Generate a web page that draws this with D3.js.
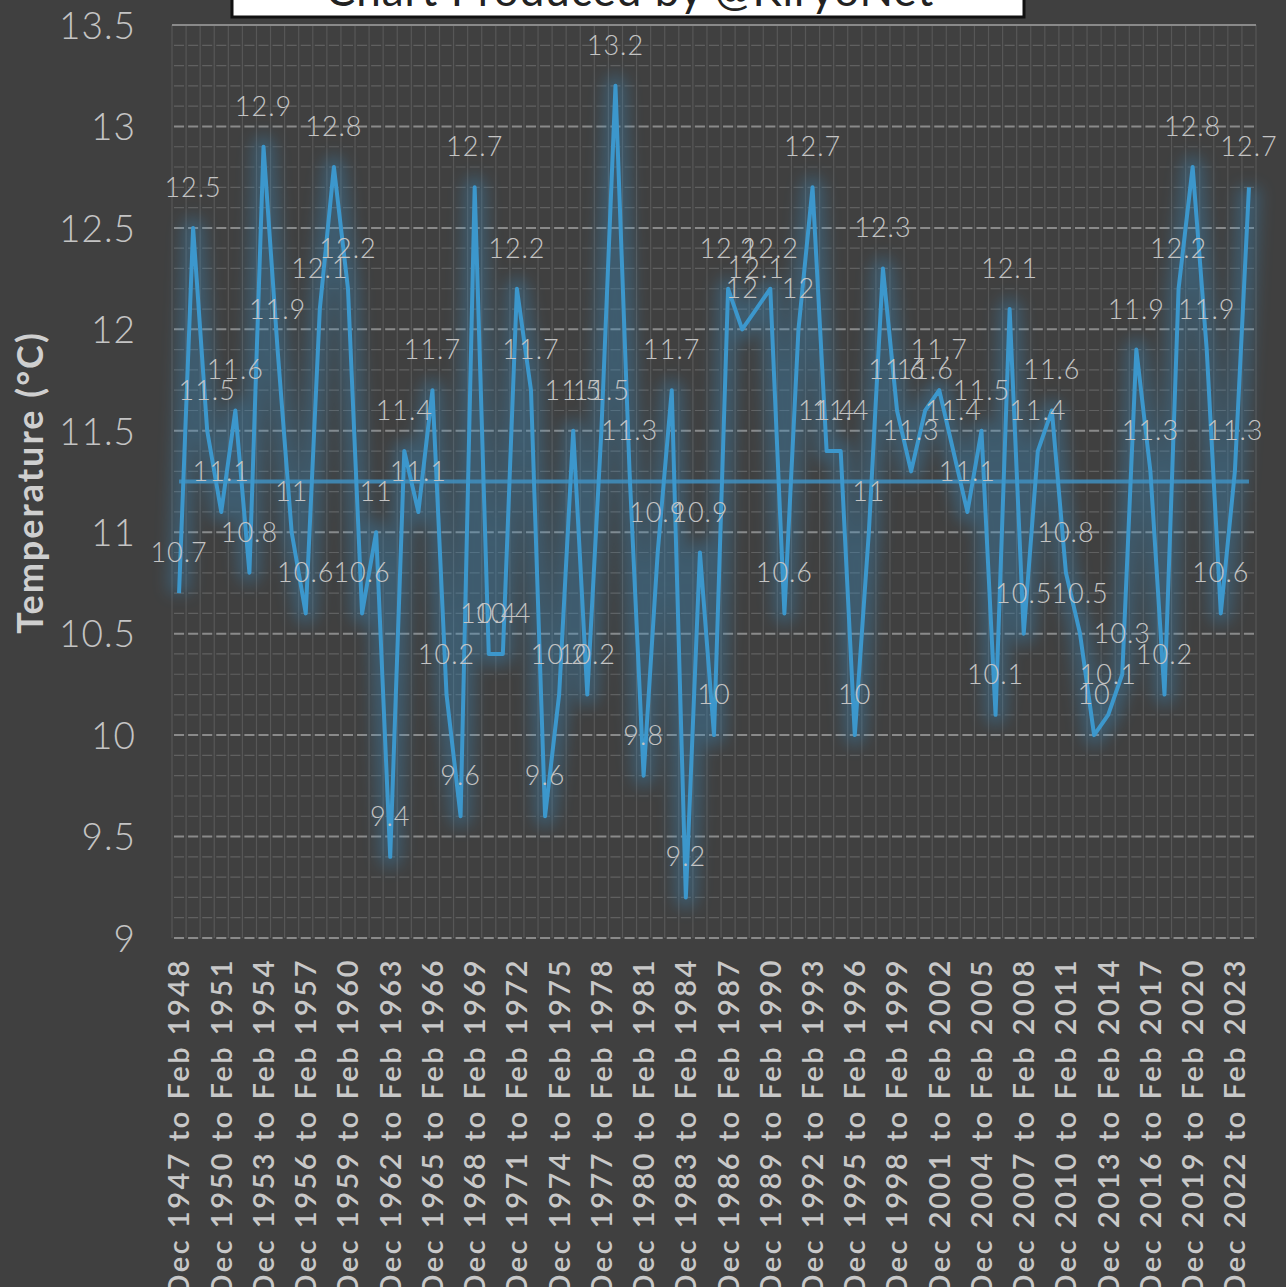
<!DOCTYPE html>
<html>
<head>
<meta charset="utf-8">
<script src="https://cdn.jsdelivr.net/npm/d3@7"></script>
<style>
  html, body { margin: 0; padding: 0; background: #404040; overflow: hidden; }
  #chart { width: 1286px; height: 1287px; }
</style>
</head>
<body>
<div id="chart"></div>
<script>
// winter (Dec-Feb) seasons, start year of each
const startYears = d3.range(1947, 2024);
const seasons = startYears.map(y => `Dec ${y} to Feb ${y + 1}`);

// mean winter temperature (°C) for each season
const temps = [
    10.7, 12.5, 11.5, 11.1, 11.6, 10.8, 12.9, 11.9, 11.0, 10.6,
    12.1, 12.8, 12.2, 10.6, 11.0, 9.4, 11.4, 11.1, 11.7, 10.2,
    9.6, 12.7, 10.4, 10.4, 12.2, 11.7, 9.6, 10.2, 11.5, 10.2,
    11.5, 13.2, 11.3, 9.8, 10.9, 11.7, 9.2, 10.9, 10.0, 12.2,
    12.0, 12.1, 12.2, 10.6, 12.0, 12.7, 11.4, 11.4, 10.0, 11.0,
    12.3, 11.6, 11.3, 11.6, 11.7, 11.4, 11.1, 11.5, 10.1, 12.1,
    10.5, 11.4, 11.6, 10.8, 10.5, 10.0, 10.1, 10.3, 11.9, 11.3,
    10.2, 12.2, 12.8, 11.9, 10.6, 11.3, 12.7
];

// average line across the whole period
const avgTemp = 11.25;

const yTicks = [9, 9.5, 10, 10.5, 11, 11.5, 12, 12.5, 13, 13.5];
const yTitle = "Temperature (°C)";
const creditText = "Chart Produced by @KiryoNet";

class WinterChart {

    constructor(parentElement) {
        this.parentElement = parentElement;
        this.width = 1286;
        this.height = 1287;
        this.plot = {left: 172, right: 1256, top: 25, bottom: 938};
        this.initVis();
    }

    initVis() {
        let vis = this;

        vis.svg = d3.select("#" + vis.parentElement).append("svg")
            .attr("width", vis.width)
            .attr("height", vis.height);

        vis.svg.append("rect")
            .attr("width", vis.width)
            .attr("height", vis.height)
            .attr("fill", "#404040");

        // glow filter for the line
        let defs = vis.svg.append("defs");
        defs.append("filter")
            .attr("id", "glow")
            .attr("x", "-10%").attr("y", "-10%")
            .attr("width", "120%").attr("height", "120%")
            .append("feGaussianBlur")
            .attr("stdDeviation", 8);

        // scales
        vis.x = d3.scaleBand()
            .domain(seasons)
            .range([vis.plot.left, vis.plot.right]);

        vis.y = d3.scaleLinear()
            .domain([9, 13.5])
            .range([vis.plot.bottom, vis.plot.top]);

        vis.cx = d => vis.x(d) + vis.x.bandwidth() / 2;

        vis.drawGrid();
        vis.drawAxes();
        vis.drawLines();
        vis.drawLabels();
        vis.drawCredit();
    }

    drawGrid() {
        let vis = this;
        let grid = vis.svg.append("g").attr("class", "grid");
        let bw = vis.x.bandwidth();

        // vertical lines at category boundaries
        let bounds = seasons.map(s => vis.x(s)).concat([vis.plot.right]);
        grid.selectAll(".vline")
            .data(bounds)
            .join("line")
            .attr("class", "vline")
            .attr("x1", d => d).attr("x2", d => d)
            .attr("y1", vis.plot.top).attr("y2", vis.plot.bottom)
            .attr("stroke", "#575757")
            .attr("stroke-width", 1.2);

        // minor horizontal lines every 0.1
        let minor = d3.range(90, 136).map(v => v / 10).filter(v => Math.round(v * 10) % 5 !== 0);
        grid.selectAll(".hminor")
            .data(minor)
            .join("line")
            .attr("class", "hminor")
            .attr("x1", vis.plot.left).attr("x2", vis.plot.right)
            .attr("y1", d => vis.y(d)).attr("y2", d => vis.y(d))
            .attr("stroke", "#606060")
            .attr("stroke-width", 1.2)
            .attr("stroke-dasharray", `${bw - 4},4`)
            .attr("stroke-dashoffset", -2);

        // major horizontal lines every 0.5
        grid.selectAll(".hmajor")
            .data(yTicks)
            .join("line")
            .attr("class", "hmajor")
            .attr("x1", vis.plot.left).attr("x2", vis.plot.right)
            .attr("y1", d => vis.y(d)).attr("y2", d => vis.y(d))
            .attr("stroke", "#8a8a8a")
            .attr("stroke-width", 2)
            .attr("stroke-dasharray", d => d === 13.5 ? null : `${bw - 4},4`)
            .attr("stroke-dashoffset", -2);
    }

    drawAxes() {
        let vis = this;

        let yAxis = vis.svg.append("g")
            .attr("transform", `translate(${vis.plot.left - 36},0)`)
            .call(d3.axisLeft(vis.y).tickValues(yTicks).tickFormat(d3.format("~g")).tickSize(0).tickPadding(0))
            .call(g => g.select(".domain").remove());
        yAxis.selectAll("text")
            .attr("fill", "#c4c4c4")
            .attr("font-family", "Lato, 'Open Sans', sans-serif")
            .attr("font-weight", 300)
            .attr("font-size", 37)
            .attr("letter-spacing", 1)
            .attr("dy", "0.36em");

        vis.svg.append("text")
            .attr("transform", `translate(30,${(320 + 645) / 2}) rotate(-90)`)
            .attr("text-anchor", "middle")
            .attr("dy", "0.36em")
            .attr("fill", "#cfcfcf")
            .attr("font-family", "Lato, 'Open Sans', sans-serif")
            .attr("font-weight", 700)
            .attr("font-size", 36)
            .attr("letter-spacing", 2)
            .text(yTitle);

        // category labels, every third season
        let shown = seasons.filter((s, i) => i % 3 === 0);
        vis.svg.append("g")
            .selectAll("text")
            .data(shown)
            .join("text")
            .attr("transform", d => `translate(${vis.cx(d)},958) rotate(-90)`)
            .attr("text-anchor", "end")
            .attr("dy", "0.36em")
            .attr("fill", "#c8c8c8")
            .attr("font-family", "Lato, 'Open Sans', sans-serif")
            .attr("font-weight", 600)
            .attr("font-size", 29)
            .attr("letter-spacing", 2.5)
            .text(d => d);
    }

    drawLines() {
        let vis = this;
        let pts = seasons.map((s, i) => [vis.cx(s), vis.y(temps[i])]);
        let avgPts = [[vis.cx(seasons[0]), vis.y(avgTemp)], [vis.cx(seasons[seasons.length - 1]), vis.y(avgTemp)]];
        let line = d3.line();

        // glow
        vis.svg.append("path")
            .attr("d", line(pts))
            .attr("fill", "none")
            .attr("stroke", "#3a8fc4")
            .attr("stroke-width", 22)
            .attr("stroke-linejoin", "round")
            .attr("opacity", 0.35)
            .attr("filter", "url(#glow)");

        vis.svg.append("path")
            .attr("d", line(avgPts))
            .attr("fill", "none")
            .attr("stroke", "#3a8fc4")
            .attr("stroke-width", 12)
            .attr("opacity", 0.3)
            .attr("filter", "url(#glow)");

        vis.svg.append("path")
            .attr("d", line(avgPts))
            .attr("fill", "none")
            .attr("stroke", "#3f8fc0")
            .attr("stroke-width", 4)
            .attr("opacity", 0.85);

        vis.svg.append("path")
            .attr("d", line(pts))
            .attr("fill", "none")
            .attr("stroke", "#3c97cc")
            .attr("stroke-width", 4)
            .attr("stroke-linejoin", "round");
    }

    drawLabels() {
        let vis = this;
        vis.svg.append("g")
            .selectAll("text")
            .data(temps)
            .join("text")
            .attr("x", (d, i) => vis.cx(seasons[i]))
            .attr("y", d => vis.y(d) - 31)
            .attr("text-anchor", "middle")
            .attr("fill", "#c4c4c4")
            .attr("font-family", "Lato, 'Open Sans', sans-serif")
            .attr("font-weight", 300)
            .attr("font-size", 27)
            .attr("letter-spacing", 1)
            .text(d => d3.format("~g")(d));
    }

    drawCredit() {
        let vis = this;
        vis.svg.append("rect")
            .attr("x", 232).attr("y", -40)
            .attr("width", 792).attr("height", 57)
            .attr("fill", "#ffffff")
            .attr("stroke", "#111")
            .attr("stroke-width", 3);
        vis.svg.append("text")
            .attr("x", 630).attr("y", 6)
            .attr("text-anchor", "middle")
            .attr("fill", "#222")
            .attr("font-family", "Lato, 'Open Sans', sans-serif")
            .attr("font-size", 44)
            .attr("letter-spacing", 1)
            .text(creditText);
    }
}

new WinterChart("chart");
</script>
</body>
</html>
